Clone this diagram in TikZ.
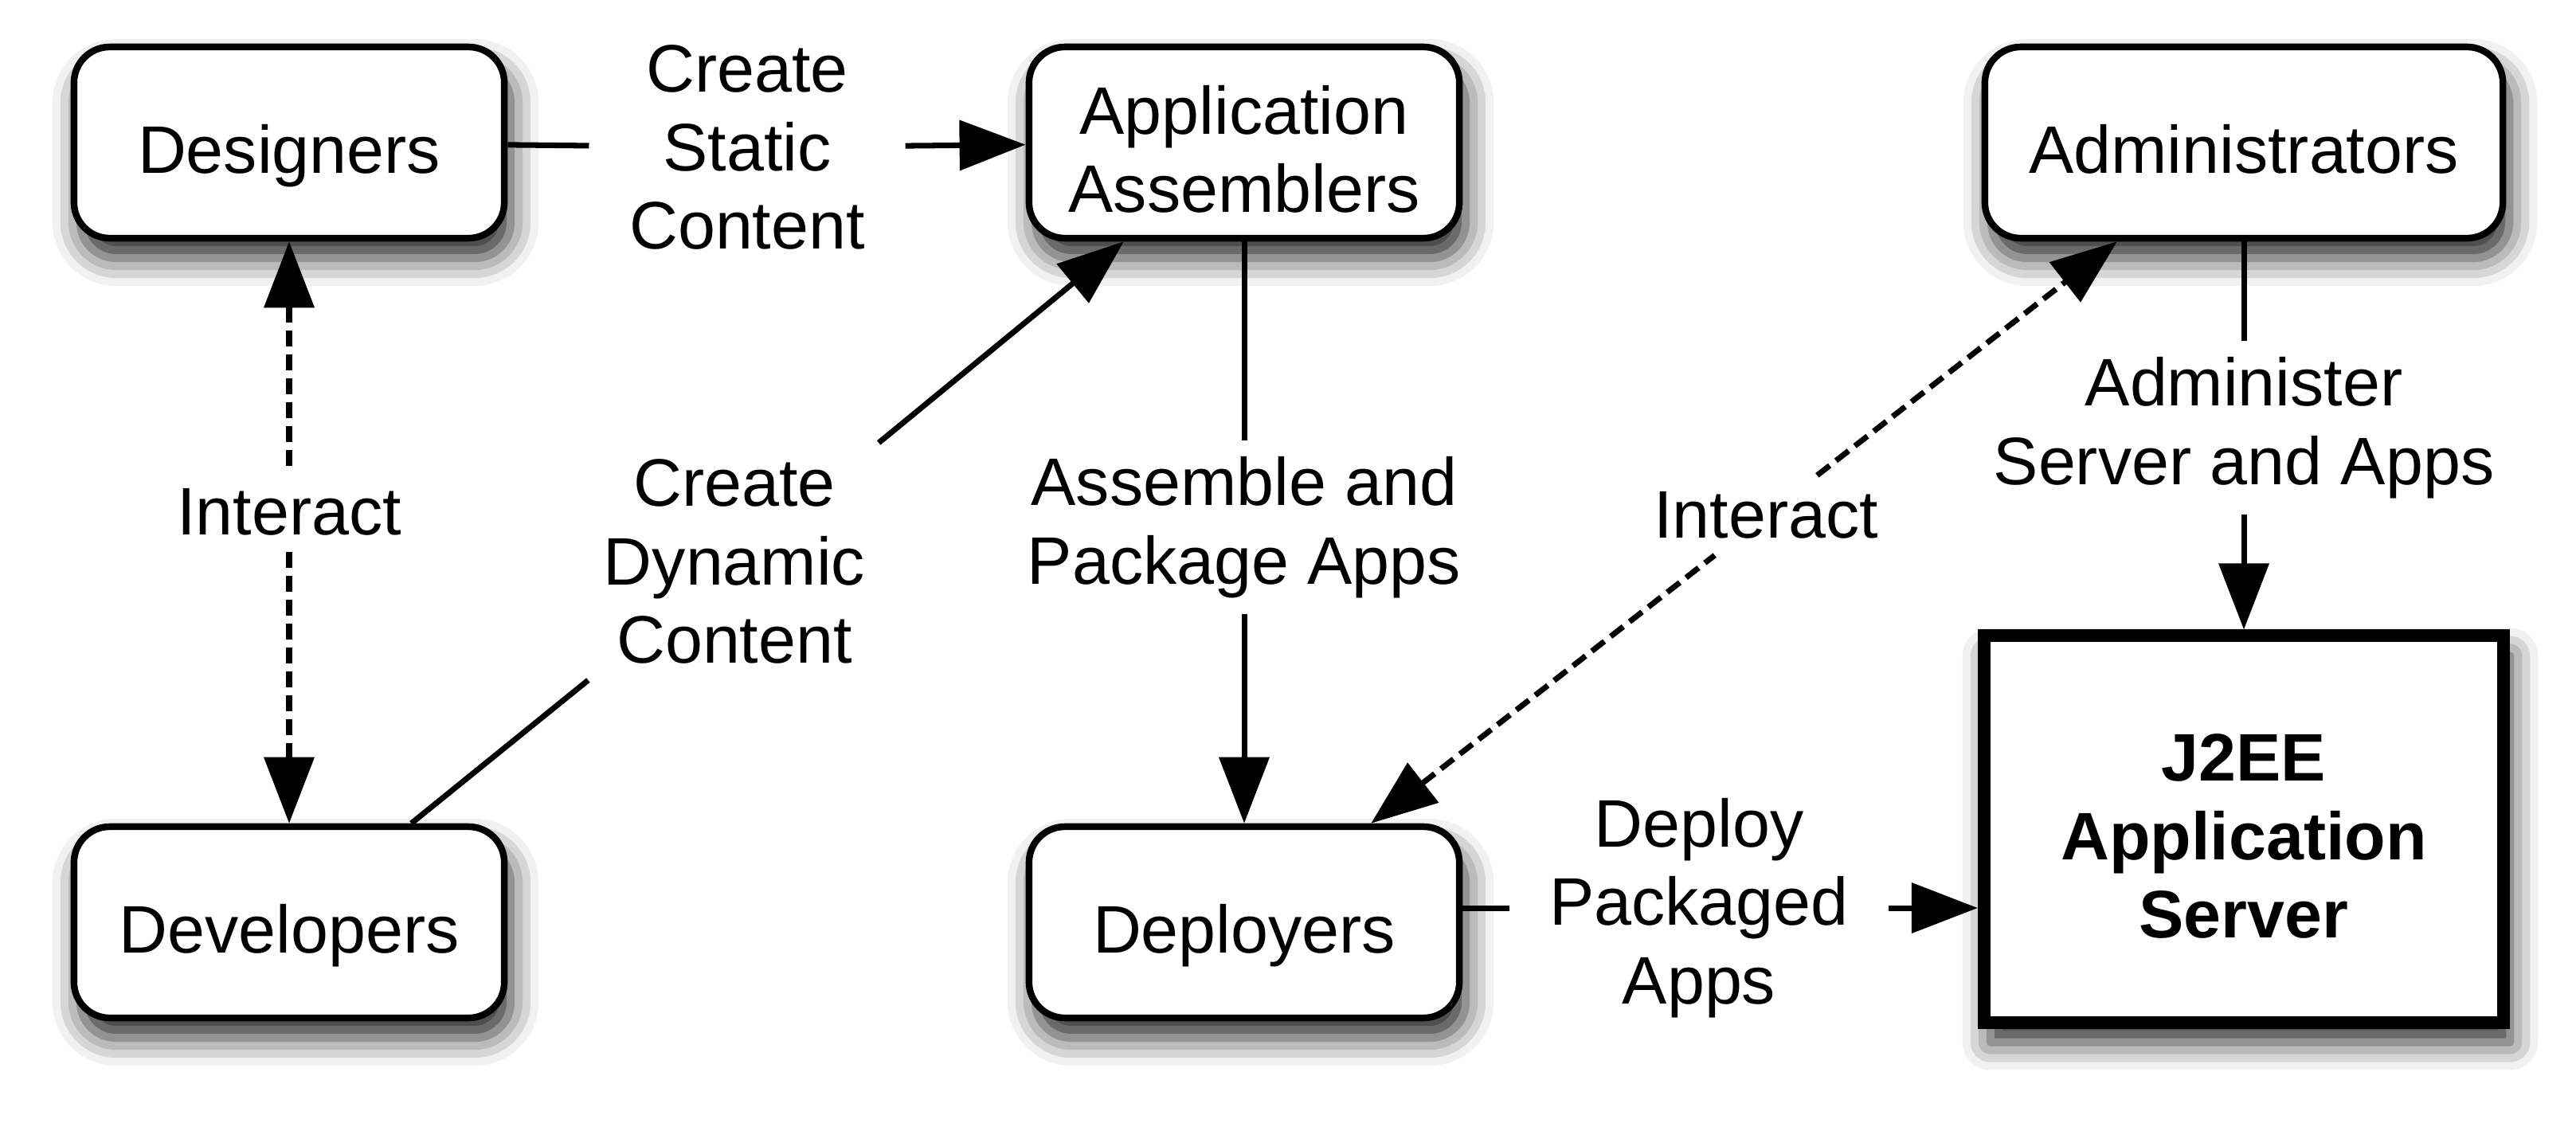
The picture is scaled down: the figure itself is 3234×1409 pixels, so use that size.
\documentclass[tikz,border=0pt]{standalone}
\usepackage{fontspec}
\setmainfont{Liberation Sans}
\usetikzlibrary{arrows.meta,shadows.blur}
% box text sits a little below the middle of its box
\newcommand{\roletext}[1]{\raisebox{-5.3pt}[\height][\depth]{\begin{tabular}{@{}c@{}}#1\end{tabular}}}

\begin{document}
\begin{tikzpicture}[x=0.01cm, y=0.01cm, >={Triangle[length=0.83cm,width=0.62cm]}]
    \tikzstyle{every node}+=[font=\fontsize{24}{28}\selectfont, align=center]
    \tikzstyle{role}=[draw=black, line width=2.4pt, rounded corners=0.45cm, fill=white,
      minimum width=5.4cm, minimum height=2.4cm,
      blur shadow={shadow xshift=0.08cm, shadow yshift=-0.25cm, shadow blur radius=0.35cm, shadow opacity=85}]
    \tikzstyle{server}=[draw=black, line width=4.5pt, fill=white,
      minimum width=6.52cm, minimum height=4.85cm,
      blur shadow={shadow xshift=0.08cm, shadow yshift=-0.25cm, shadow blur radius=0.35cm, shadow opacity=85}]
    \tikzstyle{lbl}=[inner xsep=0.5cm, inner ysep=0.2cm]
    \tikzstyle{flow}=[black, line width=2pt]
    \tikzstyle{talk}=[flow, dash pattern=on 0.2cm off 0.1cm]
    \useasboundingbox (0,0) rectangle (3234,-1409);
    % roles
    \node [role] (des) at (363,-179) {\roletext{Designers}};
    \node [role] (asm) at (1562,-179) {\roletext{Application\\Assemblers}};
    \node [role, minimum width=6.5cm] (adm) at (2817,-179) {\roletext{Administrators}};
    \node [role] (dev) at (363,-1158) {\roletext{Developers}};
    \node [role] (dep) at (1562,-1158) {\roletext{Deployers}};
    \node [server, font=\fontsize{24}{28}\selectfont\bfseries] (srv) at (2817,-1041) {\roletext{J2EE\\Application\\Server}};
    % labels
    \node [lbl] (static) at (938,-185) {Create\\Static\\Content};
    \node [lbl] (dynamic) at (922,-705) {Create\\Dynamic\\Content};
    \node [lbl] (talkl) at (363,-643) {Interact};
    \node [lbl] (assemble) at (1562,-662) {Assemble and\\Package Apps};
    \node [lbl] (talkr) at (2217,-647) {Interact};
    \node [lbl] (admin) at (2817,-537) {Administer\\Server and Apps};
    \node [lbl] (deploy) at (2133,-1140) {Deploy\\Packaged\\Apps};
    % connectors
    \draw [flow] (des) -- (static);
    \draw [flow, ->] (static) -- (asm);
    \draw [flow] (dev) -- (dynamic);
    \draw [flow, ->] (dynamic) -- (asm);
    \draw [talk, <-] (des) -- (talkl);
    \draw [talk, ->] (talkl) -- (dev);
    \draw [flow] (asm) -- (assemble);
    \draw [flow, ->] (assemble) -- (dep);
    \draw [talk, <-] (dep) -- (talkr);
    \draw [talk, ->] (talkr) -- (adm);
    \draw [flow] (adm) -- (admin);
    \draw [flow, ->] (admin) -- (srv);
    \draw [flow] (dep.east |- deploy) -- (deploy);
    \draw [flow, ->] (deploy) -- (srv.west |- deploy);
\end{tikzpicture}
\end{document}
